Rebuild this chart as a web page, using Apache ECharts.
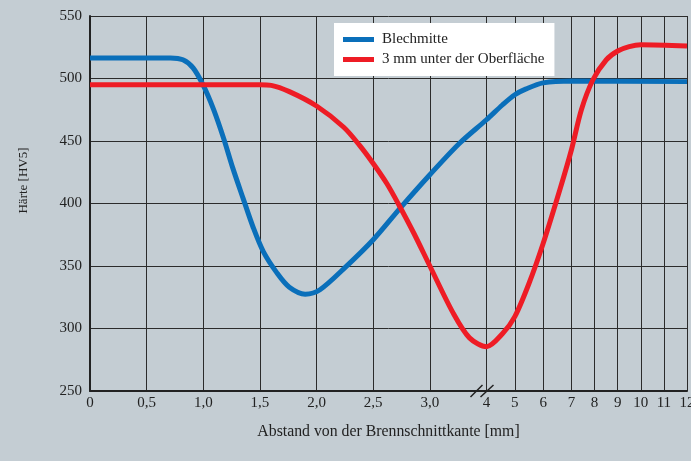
<!DOCTYPE html>
<html>
<head>
<meta charset="utf-8">
<script src="https://cdn.jsdelivr.net/npm/echarts@6/dist/echarts.min.js"></script>
<style>
  html, body { margin: 0; padding: 0; background: #c4cdd3; }
  #chart { width: 691px; height: 461px; }
</style>
</head>
<body>
<div id="chart"></div>
<script>
// Legend names
const seriesNames = ['Blechmitte', '3 mm unter der Oberfläche'];

// x ticks (mm) and their labels
const xTicks = [0, 0.5, 1, 1.5, 2, 2.5, 3, 4, 5, 6, 7, 8, 9, 10, 11, 12];
const xTickLabels = ['0', '0,5', '1,0', '1,5', '2,0', '2,5', '3,0', '4', '5', '6', '7', '8', '9', '10', '11', '12'];

// broken axis: mm -> drawn axis position (piecewise linear)
const knotMm = [0, 3, 4, 7, 12];
const knotPos = [0, 3, 3.5, 4.25, 5.27];

// y ticks
const yMin = 250, yMax = 550, yStep = 50;

// Blechmitte
const blechMm = [0, 0.71, 0.82, 0.91, 1.0, 1.09, 1.18, 1.26, 1.35, 1.44, 1.53, 1.65, 1.76, 1.9, 2.03, 2.26, 2.5, 2.74, 3.0, 3.52, 4.0, 4.57, 5.0, 5.4, 6.0, 7.0, 12];
const blechHv = [516.5, 516.5, 515, 508.5, 494.5, 475.5, 452, 428.5, 404.5, 381, 361.5, 344.5, 333, 327.5, 331, 349.5, 371, 396.5, 423, 448, 467, 479, 487, 491.7, 496.5, 498, 497.5];

// 3 mm unter der Oberfläche
const oberMm = [0, 1.5, 1.6, 1.76, 2.0, 2.24, 2.38, 2.5, 2.62, 2.72, 2.86, 3.0, 3.41, 3.7, 4.0, 4.57, 5.0, 5.5, 6.0, 6.59, 7.0, 7.43, 7.93, 8.51, 9.0, 9.5, 10.0, 12];
const oberHv = [495, 495, 494.5, 489.5, 478, 461, 446.5, 432, 416, 400, 376, 350, 312.5, 292.5, 285.5, 296, 309.5, 336, 368, 411, 443, 475, 499, 515, 522, 525.5, 527, 526];

function posOf(mm) {
  for (let i = 1; i < knotMm.length; i++) {
    if (mm <= knotMm[i]) {
      const t = (mm - knotMm[i - 1]) / (knotMm[i] - knotMm[i - 1]);
      return knotPos[i - 1] + t * (knotPos[i] - knotPos[i - 1]);
    }
  }
  return knotPos[knotPos.length - 1];
}

const tickPos = xTicks.map(posOf);
const serif = 'Liberation Serif';
const ink = '#222';

const chart = echarts.init(document.getElementById('chart'));
chart.setOption({
  backgroundColor: '#c4cdd3',
  animation: false,
  grid: { left: 90, right: 4, top: 16, bottom: 70, outerBoundsMode: 'none', containLabel: false },
  legend: {
    orient: 'vertical',
    left: 334,
    top: 23,
    backgroundColor: '#fff',
    padding: [9, 10, 9, 9],
    itemWidth: 31,
    itemHeight: 5,
    itemGap: 5,
    icon: 'rect',
    textStyle: { fontFamily: serif, fontSize: 15, color: ink, padding: [0, 0, 0, 3] },
    data: seriesNames
  },
  xAxis: {
    type: 'value',
    min: 0,
    max: posOf(12),
    name: 'Abstand von der Brennschnittkante [mm]',
    nameLocation: 'middle',
    nameGap: 33,
    nameTextStyle: { fontFamily: serif, fontSize: 15.8, color: ink },
    axisLine: { lineStyle: { color: ink, width: 2 } },
    axisTick: { show: false, customValues: tickPos },
    axisLabel: {
      customValues: tickPos,
      margin: 5,
      fontFamily: serif,
      fontSize: 15,
      color: ink,
      formatter: function (v) {
        const i = tickPos.findIndex(p => Math.abs(p - v) < 1e-6);
        return i >= 0 ? xTickLabels[i] : '';
      }
    },
    splitLine: { show: true, lineStyle: { color: '#2b2b2b', width: 1 } }
  },
  yAxis: {
    type: 'value',
    min: yMin,
    max: yMax,
    interval: yStep,
    name: 'Härte [HV5]',
    nameLocation: 'middle',
    nameGap: 60,
    nameTextStyle: { fontFamily: serif, fontSize: 13, color: ink, padding: [0, 0, 0, 46] },
    axisLine: { show: true, lineStyle: { color: ink, width: 2 } },
    axisTick: { show: false },
    axisLabel: { margin: 8, fontFamily: serif, fontSize: 15, color: ink },
    splitLine: { show: true, lineStyle: { color: '#2b2b2b', width: 1 } }
  },
  series: [
    {
      name: seriesNames[0],
      type: 'line',
      smooth: 0.3,
      symbol: 'none',
      color: '#0a6fba',
      lineStyle: { width: 5 },
      data: blechMm.map((m, i) => [posOf(m), blechHv[i]])
    },
    {
      name: seriesNames[1],
      type: 'line',
      smooth: 0.3,
      symbol: 'none',
      color: '#ee1c25',
      lineStyle: { width: 5 },
      data: oberMm.map((m, i) => [posOf(m), oberHv[i]])
    }
  ]
});

// break marks on the x axis at 4 mm
const p = chart.convertToPixel({ gridIndex: 0 }, [posOf(4), yMin]);
chart.setOption({
  graphic: [
    { type: 'line', z: 100, shape: { x1: p[0] - 16, y1: p[1] + 6, x2: p[0] - 4, y2: p[1] - 6 }, style: { stroke: ink, lineWidth: 1.5 } },
    { type: 'line', z: 100, shape: { x1: p[0] - 6, y1: p[1] + 6, x2: p[0] + 7, y2: p[1] - 6 }, style: { stroke: ink, lineWidth: 1.5 } }
  ]
});
</script>
</body>
</html>
